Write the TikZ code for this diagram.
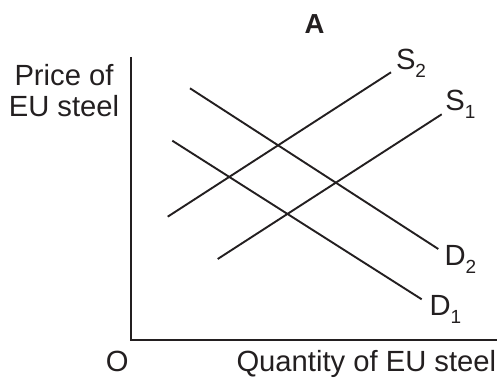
\documentclass[tikz,border=0pt]{standalone}
\usepackage{fontspec}
\setmainfont{Liberation Sans}
\definecolor{ink}{HTML}{231F20}
\newcommand\sublab[2]{#1\raisebox{-8pt}{\fontsize{19}{19}\selectfont #2}}
\begin{document}
\begin{tikzpicture}[x=1pt,y=-1pt,
  txt/.style={inner sep=0pt,outer sep=0pt,text=ink,font=\fontsize{29.2}{33}\selectfont},
  curve/.style={draw=ink,line width=1.9pt},
  axis/.style={draw=ink,line width=1.9pt}]
\useasboundingbox (0,0) rectangle (500,379);
% axes
\coordinate (ytop) at (130.7,57);
\coordinate (orig) at (130.7,340);
\coordinate (xend) at (497,340);
\draw[axis] (ytop) -- (orig) -- (xend);
% curves
\coordinate (s2a) at (167.7,216.7); \coordinate (s2b) at (391,72.3);
\coordinate (s1a) at (217.7,259);   \coordinate (s1b) at (441.7,114.3);
\coordinate (d2a) at (190,88.3);    \coordinate (d2b) at (438.3,249);
\coordinate (d1a) at (172.3,140.7); \coordinate (d1b) at (421.7,299.3);
\draw[curve] (s2a) -- (s2b);
\draw[curve] (s1a) -- (s1b);
\draw[curve] (d2a) -- (d2b);
\draw[curve] (d1a) -- (d1b);
% labels
\node[txt,anchor=base,font=\fontsize{27.5}{30}\selectfont\bfseries] (title) at (314.5,34) {A};
\node[txt,anchor=base] (price) at (64,86) {Price of};
\node[txt,anchor=base] (eusteel) at (64,117) {EU steel};
\node[txt,anchor=base west] (qty) at (236.5,371) {Quantity of EU steel};
\node[txt,anchor=base west] (o) at (105.8,371) {O};
\node[txt,anchor=base west] (ls2) at (396,69.5) {\sublab{S}{2}};
\node[txt,anchor=base west] (ls1) at (445.4,111) {\sublab{S}{1}};
\node[txt,anchor=base west] (ld2) at (444.5,265) {\sublab{D}{2}};
\node[txt,anchor=base west] (ld1) at (429.5,315) {\sublab{D}{1}};
\end{tikzpicture}
\end{document}
